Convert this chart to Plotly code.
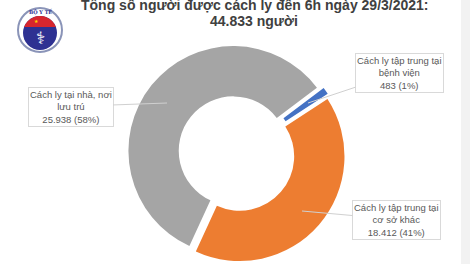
import numpy as np
import plotly.graph_objects as go

# ---- data ----
labels = ["Cách ly tập trung tại bệnh viện", "Cách ly tập trung tại cơ sở khác", "Cách ly tại nhà, nơi lưu trú"]
values = [483, 18412, 25938]
pct_text = ["1%", "41%", "58%"]
colors = ["#4472C4", "#ED7D31", "#A5A5A5"]
title_line1 = "Tổng số người được cách ly đến 6h ngày 29/3/2021:"
title_line2 = "44.833 người"
label_texts = [
    "Cách ly tập trung tại<br>bệnh viện<br>483 (1%)",
    "Cách ly tập trung tại<br>cơ sở khác<br>18.412 (41%)",
    "Cách ly tại nhà, nơi<br>lưu trú<br>25.938 (58%)",
]

W, H = 470, 264
def px(x):
    return x / W
def py(y):
    return 1 - y / H

fig = go.Figure()
fig.add_trace(go.Pie(
    labels=labels, values=values, sort=False, direction="clockwise",
    rotation=53, hole=0.52, pull=[0.04, 0.04, 0.04],
    marker=dict(colors=colors, line=dict(width=0)),
    textinfo="none", hoverinfo="label+value+percent", showlegend=False,
    domain=dict(x=[px(127.5), px(345.5)], y=[1.5 / H, 219.5 / H]),
))

font_lbl = dict(family="Liberation Sans, Arial, sans-serif", size=9.5, color="#595959")
# label boxes: (target px, box center px)
callouts = [
    ((308, 103), (399.5, 72.5)),
    ((302, 211), (396.5, 219.5)),
    ((167, 103), (70.5, 106.5)),
]
annots = []
for txt, (tgt, ctr) in zip(label_texts, callouts):
    annots.append(dict(
        x=px(tgt[0]), y=py(tgt[1]), xref="paper", yref="paper",
        ax=ctr[0] - tgt[0], ay=ctr[1] - tgt[1], axref="pixel", ayref="pixel",
        text=txt, showarrow=True, arrowhead=0, arrowwidth=1, arrowcolor="#D0D0D0",
        font=font_lbl, bgcolor="white", bordercolor="#D9D9D9", borderwidth=1,
        borderpad=1, align="center",
    ))

font_title = dict(family="Liberation Sans, Arial, sans-serif", size=14, color="#404040")
annots.append(dict(x=px(255), y=py(5), xref="paper", yref="paper", showarrow=False,
                   text="<b>" + title_line1 + "</b>", font=font_title,
                   xanchor="center", yanchor="middle"))
annots.append(dict(x=px(254), y=py(21), xref="paper", yref="paper", showarrow=False,
                   text="<b>" + title_line2 + "</b>", font=font_title,
                   xanchor="center", yanchor="middle"))
# logo text
annots.append(dict(x=px(40), y=py(11.5), xref="paper", yref="paper", showarrow=False,
                   text="<b>BỘ Y TẾ</b>", font=dict(family="DejaVu Serif", size=5, color="#2E3192"),
                   xanchor="center", yanchor="middle"))
annots.append(dict(x=px(40), y=py(38), xref="paper", yref="paper", showarrow=False,
                   text="⚕", font=dict(family="DejaVu Sans", size=17, color="white"),
                   xanchor="center", yanchor="middle"))
annots.append(dict(x=px(36), y=py(21), xref="paper", yref="paper", showarrow=False,
                   text="★", font=dict(family="DejaVu Sans", size=5, color="#FFD200"),
                   xanchor="center", yanchor="middle"))

shapes = [
    dict(type="rect", xref="paper", yref="paper", x0=px(461), x1=1, y0=0, y1=1,
         fillcolor="#F2F2F2", line=dict(width=0), layer="below"),
    dict(type="circle", xref="paper", yref="paper", xsizemode="pixel", ysizemode="pixel",
         xanchor=px(40), yanchor=py(30), x0=-22, x1=22, y0=-22, y1=22,
         fillcolor="white", line=dict(color="#8A94B8", width=2)),
    dict(type="circle", xref="paper", yref="paper", xsizemode="pixel", ysizemode="pixel",
         xanchor=px(40), yanchor=py(33), x0=-17, x1=17, y0=-17, y1=17,
         fillcolor="#2E3192", line=dict(width=0)),
]
# red top band of logo (circular segment)
ang = np.linspace(np.arcsin(6 / 17), np.pi - np.arcsin(6 / 17), 20)
pts = [(17 * np.cos(a), 17 * np.sin(a)) for a in ang]
path = "M " + " L ".join(f"{x:.2f},{y:.2f}" for x, y in pts) + " Z"
shapes.append(dict(type="path", xref="paper", yref="paper", xsizemode="pixel", ysizemode="pixel",
                   xanchor=px(40), yanchor=py(33), path=path,
                   fillcolor="#D7262E", line=dict(width=0)))

fig.update_layout(
    width=W, height=H, margin=dict(l=0, r=0, t=0, b=0),
    paper_bgcolor="white", plot_bgcolor="white",
    annotations=annots, shapes=shapes,
)
fig.write_html("out.html")
